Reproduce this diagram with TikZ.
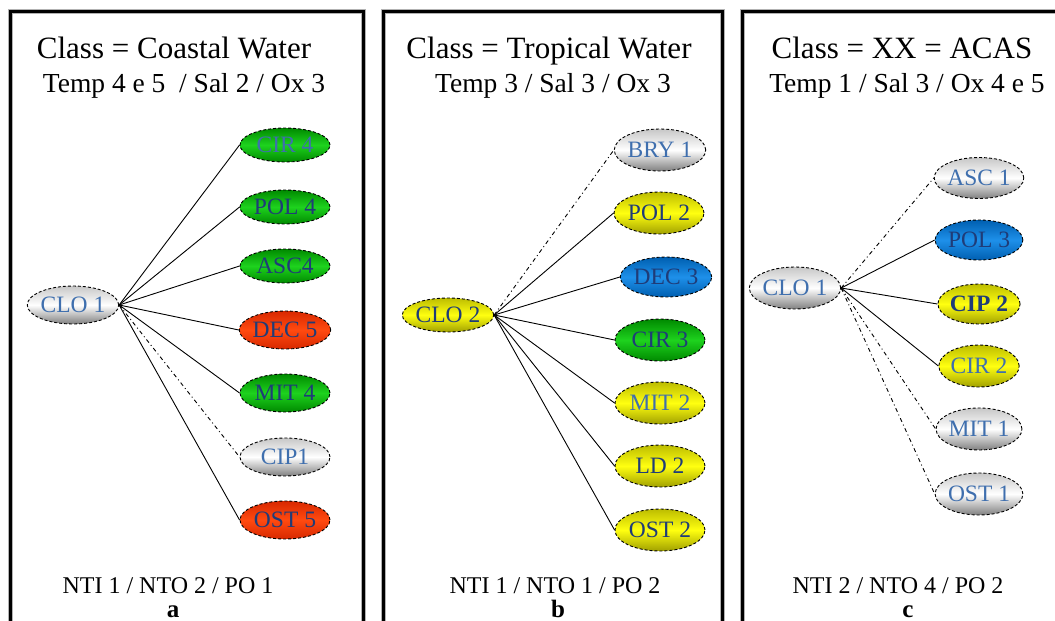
\documentclass[tikz,border=0pt]{standalone}
\usepackage{fontspec}
\setmainfont{Liberation Serif}
\usetikzlibrary{shapes.geometric}

\definecolor{txtnavy}{HTML}{1F3C78}
\definecolor{txtsteel}{HTML}{3F6FAE}
\definecolor{grnmid}{HTML}{1ED21E}
\definecolor{grnedge}{HTML}{008A00}
\definecolor{redmid}{HTML}{FF4A10}
\definecolor{rededge}{HTML}{D82800}
\definecolor{yelmid}{HTML}{FFFF10}
\definecolor{yeledge}{HTML}{BDBD00}
\definecolor{blumid}{HTML}{1E90EA}
\definecolor{bluedge}{HTML}{005FB0}

\begin{document}
\begin{tikzpicture}[x=1pt,y=-1pt,
  panelhalo/.style={draw=black!30,line width=5pt},
  panelline/.style={draw=black,line width=3pt},
  title/.style={anchor=base,font=\fontsize{31}{31}\selectfont},
  subtitle/.style={anchor=base,font=\fontsize{27.5}{28}\selectfont},
  counts/.style={anchor=base,font=\fontsize{24}{24}\selectfont},
  tag/.style={anchor=base,font=\fontsize{25}{25}\selectfont\bfseries},
  taxon/.style={ellipse,inner sep=0pt,minimum width=90pt,minimum height=38pt,
    draw=black,densely dashed,line width=0.9pt,
    font=\fontsize{23.5}{23.5}\selectfont,text=txtnavy},
  grey/.style={taxon,top color=black!22,bottom color=black!50,middle color=white,text=txtsteel},
  green/.style={taxon,top color=grnedge,bottom color=grnedge,middle color=grnmid},
  red/.style={taxon,top color=rededge,bottom color=rededge,middle color=redmid},
  yellow/.style={taxon,top color=yeledge,bottom color=yeledge!85!black,middle color=yelmid},
  blue/.style={taxon,top color=bluedge,bottom color=bluedge,middle color=blumid},
  edge/.style={draw=black,line width=0.9pt},
  faint/.style={edge,dash pattern=on 4pt off 3pt on 1pt off 3pt},
]
\useasboundingbox (0,0) rectangle (1055,621);
\fill[white] (0,0) rectangle (1055,621);

% three panel frames
\foreach \l/\r in {10/363,383/722,742/1080}{
  \draw[panelhalo] (\l,660) -- (\l,11) -- (\r,11) -- (\r,660);
  \draw[panelline] (\l,660) -- (\l,11) -- (\r,11) -- (\r,660);
}

% ---------- panel a ----------
\node[title] (ta1) at (174,58) {Class = Coastal Water};
\node[subtitle] (ta2) at (184,92) {Temp 4 e 5\ \ / Sal 2 / Ox 3};
\node[grey,minimum height=38pt] (clo1a) at (73,305) {CLO 1};
\node[green,minimum height=34pt,text=txtsteel] (cir4) at (285,145) {CIR 4};
\node[green,minimum height=34pt] (pol4) at (285,207) {POL 4};
\node[green,minimum height=34pt] (asc4) at (285,266) {ASC4};
\node[red,minimum height=38pt] (dec5) at (285,330) {DEC 5};
\node[green,minimum height=38pt] (mit4) at (285,393) {MIT 4};
\node[grey,minimum height=38pt] (cip1) at (285,457) {CIP1};
\node[red,minimum height=38pt] (ost5) at (285,520) {OST 5};
\foreach \t in {cir4,pol4,asc4,dec5,mit4,ost5}
  \draw[edge] (clo1a.east) -- (\t.west);
\draw[faint] (clo1a.east) -- (cip1.west);
\node[counts] (ca) at (168,593) {NTI 1 / NTO 2 / PO 1};
\node[tag] (la) at (173,617) {a};

% ---------- panel b ----------
\node[title] (tb1) at (549,58) {Class = Tropical Water};
\node[subtitle] (tb2) at (553,92) {Temp 3 / Sal 3 / Ox 3};
\node[yellow,minimum height=34pt] (clo2) at (448,315) {CLO 2};
\node[grey,minimum height=42pt] (bry1) at (660,150) {BRY 1};
\node[yellow,minimum height=42pt] (pol2) at (659,213) {POL 2};
\node[blue,minimum height=40pt,minimum width=86pt] (dec3) at (666,277) {DEC 3};
\node[green,minimum height=42pt] (cir3) at (660,340) {CIR 3};
\node[yellow,minimum height=42pt,text=txtsteel] (mit2) at (660,403) {MIT 2};
\node[yellow,minimum height=42pt] (ld2) at (660,466) {LD 2};
\node[yellow,minimum height=42pt] (ost2) at (660,530) {OST 2};
\foreach \t in {pol2,dec3,cir3,mit2,ld2,ost2}
  \draw[edge] (clo2.east) -- (\t.west);
\draw[faint] (clo2.east) -- (bry1.west);
\node[counts] (cb) at (555,593) {NTI 1 / NTO 1 / PO 2};
\node[tag] (lb) at (558,617) {b};

% ---------- panel c ----------
\node[title] (tc1) at (902,58) {Class = XX = ACAS};
\node[subtitle] (tc2) at (907,92) {Temp 1 / Sal 3 / Ox 4 e 5};
\node[grey,minimum width=80pt,minimum height=42pt] (clo1c) at (795,288) {CLO 1};
\node[grey,minimum width=78pt,minimum height=41pt] (asc1) at (979,178) {ASC 1};
\node[blue,minimum width=78pt,minimum height=40pt] (pol3) at (979,240) {POL 3};
\node[yellow,minimum width=78pt,minimum height=40pt,font=\fontsize{23.5}{23.5}\selectfont\bfseries] (cip2) at (979,304) {CIP 2};
\node[yellow,minimum width=78pt,minimum height=42pt,text=txtsteel] (cir2) at (979,366) {CIR 2};
\node[grey,minimum width=78pt,minimum height=42pt] (mit1) at (979,429) {MIT 1};
\node[grey,minimum width=78pt,minimum height=42pt] (ost1) at (979,494) {OST 1};
\foreach \t in {pol3,cip2,cir2}
  \draw[edge] (clo1c.east) -- (\t.west);
\foreach \t in {asc1,mit1,ost1}
  \draw[faint] (clo1c.east) -- (\t.west);
\node[counts] (cc) at (898,593) {NTI 2 / NTO 4 / PO 2};
\node[tag] (lc) at (908,617) {c};
\end{tikzpicture}
\end{document}
